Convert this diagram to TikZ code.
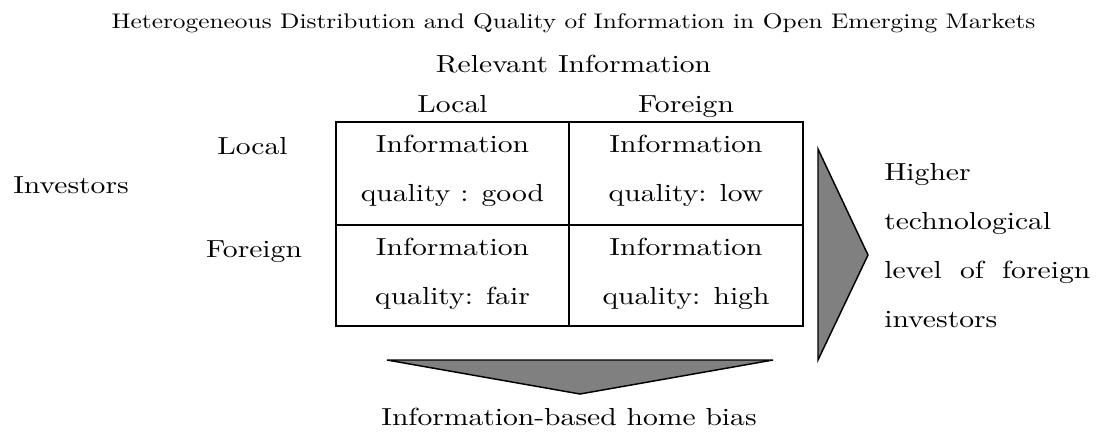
\documentclass[tikz,border=0pt]{standalone}
\usepackage{fontspec}
\newfontfamily\cent{lmroman10-regular.otf}[FakeStretch=1.2]
\definecolor{arrowgray}{HTML}{808080}
\begin{document}
\begin{tikzpicture}[x=0.75pt,y=-0.75pt,
  txt/.style={font=\cent\fontsize{18.5}{36.75}\selectfont, inner sep=0pt},
  ttl/.style={font=\cent\fontsize{15.85}{20}\selectfont, inner sep=0pt},
  gridline/.style={line width=1.5pt},
  bigarrow/.style={fill=arrowgray, draw=black, line width=1.1pt, line join=miter}]
\useasboundingbox (0,0) rectangle (1099,433);

% title and headers
\node[ttl, anchor=base] (title) at (573.5,28) {Heterogeneous Distribution and Quality of Information in Open Emerging Markets};
\node[txt, anchor=base] (relinfo) at (573.5,72) {Relevant Information};
\node[txt, anchor=base] (hlocal) at (452.5,112) {Local};
\node[txt, anchor=base] (hforeign) at (686,112) {Foreign};

% row labels
\node[txt, anchor=base] (investors) at (71,193) {Investors};
\node[txt, anchor=base] (rlocal) at (252.5,154) {Local};
\node[txt, anchor=base] (rforeign) at (254,257) {Foreign};

% table
\coordinate (tl) at (336,122);
\coordinate (br) at (803,326);
\draw[gridline] (tl) rectangle (br);
\coordinate (vt) at (569,122);
\coordinate (vb) at (569,326);
\coordinate (hl) at (336,225);
\coordinate (hr) at (803,225);
\draw[gridline] (vt) -- (vb);
\draw[gridline] (hl) -- (hr);

% cell texts (base anchor = baseline of the last line)
\node[txt, anchor=base, align=center] (c11) at (452.5,201) {Information\\quality : good};
\node[txt, anchor=base, align=center] (c12) at (686,201) {Information\\quality: low};
\node[txt, anchor=base, align=center] (c21) at (452.5,304) {Information\\quality: fair};
\node[txt, anchor=base, align=center] (c22) at (686,304) {Information\\quality: high};

% right arrow
\coordinate (ra1) at (818,149);
\coordinate (ra2) at (868,255);
\coordinate (ra3) at (818,360);
\draw[bigarrow] (ra1) -- (ra2) -- (ra3) -- cycle;
\node[txt, anchor=base west, align=left] (higher) at (884,327) {Higher\\technological\\\makebox[154.5pt][s]{level of foreign}\\investors};

% bottom arrow
\coordinate (ba1) at (387,360);
\coordinate (ba2) at (773,360);
\coordinate (ba3) at (580,394);
\draw[bigarrow] (ba1) -- (ba2) -- (ba3) -- cycle;
\node[txt, anchor=base] (homebias) at (569,425.5) {Information-based home bias};
\end{tikzpicture}
\end{document}
